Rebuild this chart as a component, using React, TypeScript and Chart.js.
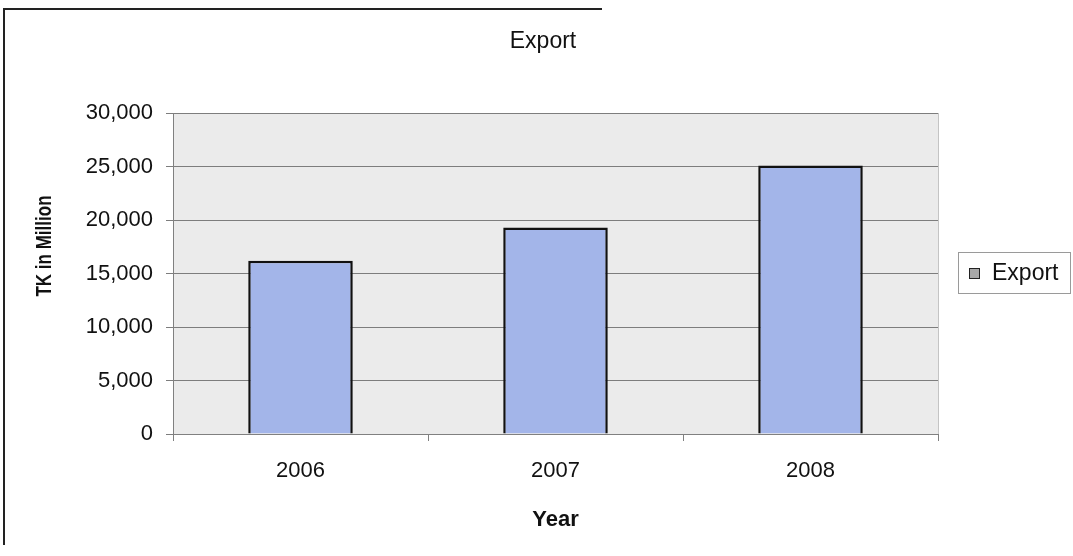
import React, { useEffect, useRef } from "react";
import { Chart, registerables } from "chart.js";

Chart.register(...registerables);

const categories: string[] = ["2006", "2007", "2008"];
const exportValues: number[] = [16200, 19300, 25100];
const seriesLabel = "Export";
const chartTitle = "Export";
const yAxisTitle = "TK in Million";
const xAxisTitle = "Year";

const FONT = "'Liberation Sans', Arial, sans-serif";

const decorPlugin = {
  id: "decor",
  beforeDraw(chart: any) {
    const { ctx, chartArea } = chart;
    ctx.save();
    // page frame lines
    ctx.strokeStyle = "#222";
    ctx.lineWidth = 2;
    ctx.beginPath();
    ctx.moveTo(4, 545);
    ctx.lineTo(4, 9);
    ctx.lineTo(602, 9);
    ctx.stroke();
    // plot background
    ctx.fillStyle = "#ebebeb";
    ctx.fillRect(chartArea.left, chartArea.top, chartArea.right - chartArea.left, chartArea.bottom - chartArea.top);
    ctx.strokeStyle = "#c4c4c4";
    ctx.lineWidth = 1;
    ctx.beginPath();
    ctx.moveTo(chartArea.right + 0.5, chartArea.top);
    ctx.lineTo(chartArea.right + 0.5, chartArea.bottom);
    ctx.stroke();
    ctx.restore();
  },
  afterDraw(chart: any) {
    const { ctx } = chart;
    ctx.save();
    // legend
    ctx.strokeStyle = "#9a9a9a";
    ctx.lineWidth = 1;
    ctx.strokeRect(958.5, 252.5, 112, 41);
    ctx.fillStyle = "#a8a8a8";
    ctx.fillRect(969, 268, 11, 11);
    ctx.strokeStyle = "#222";
    ctx.strokeRect(969.5, 268.5, 10, 10);
    ctx.fillStyle = "#111";
    ctx.font = `23px ${FONT}`;
    ctx.textBaseline = "middle";
    ctx.textAlign = "left";
    ctx.fillText(chart.data.datasets[0].label, 992, 274);
    // y axis title
    ctx.translate(45, 246);
    ctx.rotate(-Math.PI / 2);
    ctx.scale(1, 1.3);
    ctx.font = `bold 17px ${FONT}`;
    ctx.textAlign = "center";
    ctx.fillText(yAxisTitle, 0, 0);
    ctx.restore();
  },
};

export default function App() {
  const ref = useRef<HTMLCanvasElement | null>(null);
  useEffect(() => {
    if (!ref.current) return;
    const chart = new Chart(ref.current, {
      type: "bar",
      data: {
        labels: categories,
        datasets: [
          {
            label: seriesLabel,
            data: exportValues,
            backgroundColor: "#a3b5e9",
            borderColor: "#111",
            borderWidth: 2.5,
            barPercentage: 0.41,
            categoryPercentage: 1,
          },
        ],
      },
      options: {
        responsive: false,
        animation: false,
        layout: { padding: { left: 13, right: 0, top: 0, bottom: 0 } },
        plugins: {
          legend: { display: false },
          tooltip: { enabled: false },
          title: {
            display: true,
            text: chartTitle,
            color: "#111",
            font: { family: FONT, size: 23, weight: "normal" },
            padding: { top: 28, bottom: 57.4 },
          },
        },
        scales: {
          x: {
            offset: true,
            afterFit: (s: any) => {
              s.height = 122;
            },
            grid: {
              offset: true,
              drawOnChartArea: false,
              drawTicks: true,
              tickLength: 7,
              color: "#808080",
            },
            border: { display: true, color: "#808080", width: 1 },
            ticks: {
              color: "#111",
              font: { family: FONT, size: 22 },
              padding: 17,
            },
            title: {
              display: true,
              text: xAxisTitle,
              color: "#111",
              font: { family: FONT, size: 22, weight: "bold" },
              padding: { top: 23, bottom: 23 },
            },
          },
          y: {
            min: 0,
            max: 30000,
            afterFit: (s: any) => {
              s.width = 160;
            },
            grid: {
              color: "#7d7d7d",
              drawTicks: true,
              tickLength: 7,
            },
            border: { display: true, color: "#808080", width: 1 },
            ticks: {
              stepSize: 5000,
              color: "#111",
              font: { family: FONT, size: 22 },
              padding: 13,
              callback: (v: any) => Number(v).toLocaleString("en-US"),
            },
          },
          spacer: {
            type: "linear",
            position: "right",
            display: true,
            afterFit: (s: any) => {
              s.width = 135;
            },
            grid: { display: false, drawOnChartArea: false },
            border: { display: false },
            ticks: { display: false },
          },
        },
      },
      plugins: [decorPlugin],
    });
    return () => chart.destroy();
  }, []);
  return (
    <div style={{ position: "absolute", left: 0, top: 0, width: 1073, height: 556, background: "#fff" }}>
      <canvas ref={ref} width={1073} height={556} />
    </div>
  );
}
